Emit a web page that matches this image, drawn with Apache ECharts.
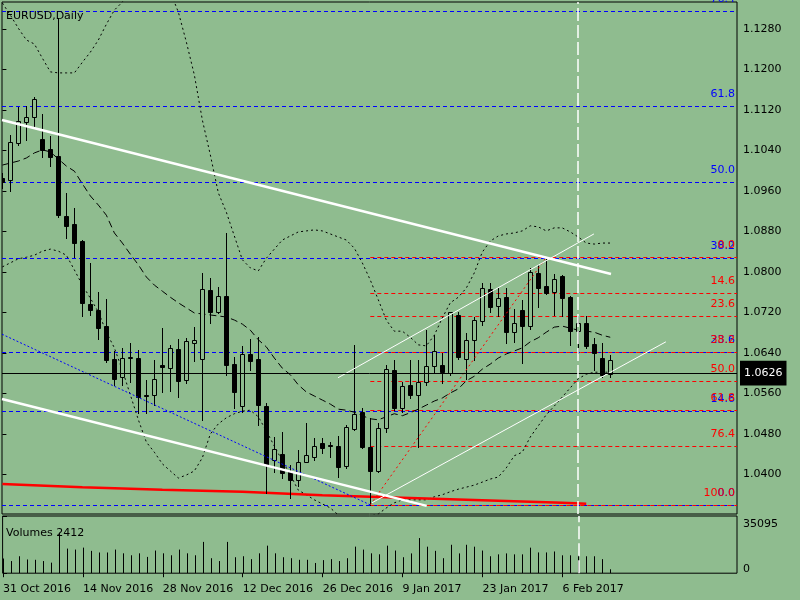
<html>
<head>
<title>EURUSD,Daily</title>
<script src="https://cdn.jsdelivr.net/npm/echarts@6/dist/echarts.min.js"></script>
<style>
    html, body { margin: 0; padding: 0; background: #8FBC8F; }
    #main { width: 800px; height: 600px; }
</style>
</head>
<body>
<div id="main"></div>
<script type="text/javascript">
// daily bars, 31 Oct 2016 .. 10 Feb 2017 (index 0..76)
var opens = [1.0985,1.0982,1.1055,1.1096,1.1106,1.1063,1.1043,1.1029,1.0911,1.0895,
    1.0861,1.0737,1.0725,1.0694,1.0629,1.0593,1.0630,1.0631,1.0557,1.0556,
    1.0617,1.0611,1.0648,1.0587,1.0660,1.0629,1.0765,1.0720,1.0753,1.0619,
    1.0536,1.0638,1.0629,1.0536,1.0429,1.0441,1.0406,1.0390,1.0425,1.0435,
    1.0463,1.0458,1.0457,1.0416,1.0490,1.0524,1.0455,1.0406,1.0491,1.0607,
    1.0532,1.0577,1.0556,1.0583,1.0615,1.0617,1.0601,1.0714,1.0629,1.0666,
    1.0704,1.0767,1.0733,1.0751,1.0682,1.0725,1.0694,1.0798,1.0773,1.0761,
    1.0792,1.0751,1.0684,1.0700,1.0658,1.0631,1.0599];
var highs = [1.0995,1.1071,1.1126,1.1128,1.1146,1.1112,1.1069,1.1301,1.0956,1.0927,
    1.0863,1.0818,1.0761,1.0747,1.0643,1.0650,1.0660,1.0646,1.0587,1.0627,
    1.0690,1.0656,1.0668,1.0670,1.0692,1.0798,1.0788,1.0771,1.0877,1.0633,
    1.0654,1.0668,1.0672,1.0542,1.0475,1.0483,1.0418,1.0449,1.0502,1.0473,
    1.0473,1.0465,1.0477,1.0497,1.0656,1.0532,1.0512,1.0502,1.0617,1.0627,
    1.0583,1.0627,1.0627,1.0686,1.0676,1.0640,1.0721,1.0720,1.0680,1.0711,
    1.0779,1.0779,1.0771,1.0769,1.0727,1.0745,1.0808,1.0814,1.0829,1.0796,
    1.0794,1.0753,1.0712,1.0712,1.0670,1.0660,1.0635];
var lows = [1.0965,1.0960,1.1051,1.1061,1.1084,1.1027,1.1009,1.0909,1.0867,1.0830,
    1.0712,1.0715,1.0668,1.0623,1.0577,1.0577,1.0583,1.0522,1.0522,1.0538,
    1.0562,1.0564,1.0554,1.0581,1.0625,1.0508,1.0700,1.0719,1.0597,1.0532,
    1.0524,1.0607,1.0498,1.0364,1.0404,1.0394,1.0354,1.0378,1.0424,1.0429,
    1.0443,1.0435,1.0396,1.0412,1.0488,1.0453,1.0340,1.0404,1.0483,1.0528,
    1.0524,1.0552,1.0455,1.0577,1.0601,1.0581,1.0597,1.0629,1.0589,1.0627,
    1.0696,1.0720,1.0712,1.0660,1.0662,1.0621,1.0688,1.0731,1.0757,1.0714,
    1.0712,1.0656,1.0640,1.0650,1.0607,1.0593,1.0593];
var closes = [1.0977,1.1057,1.1098,1.1106,1.1142,1.1041,1.1027,1.0913,1.0891,1.0858,
    1.0739,1.0725,1.0690,1.0627,1.0589,1.0631,1.0632,1.0554,1.0555,1.0589,
    1.0613,1.0650,1.0585,1.0664,1.0666,1.0767,1.0720,1.0753,1.0617,1.0562,
    1.0637,1.0625,1.0538,1.0419,1.0451,1.0402,1.0390,1.0425,1.0439,1.0457,
    1.0453,1.0457,1.0414,1.0493,1.0520,1.0455,1.0406,1.0491,1.0609,1.0532,
    1.0575,1.0556,1.0583,1.0615,1.0644,1.0603,1.0720,1.0633,1.0666,1.0705,
    1.0769,1.0731,1.0749,1.0682,1.0700,1.0694,1.0800,1.0769,1.0759,1.0787,
    1.0749,1.0684,1.0700,1.0654,1.0640,1.0597,1.0626];
var volumes = [9000,7450,10400,8430,8230,7450,6470,24900,15100,14500,
    15700,13700,12700,12700,14500,12200,11000,12200,10000,13900,
    12200,11000,14500,12200,11000,19200,9200,7450,19200,9800,
    10400,8630,12200,16900,12200,9800,9200,8230,8230,6270,
    8030,8630,7450,9200,16300,14500,12200,11600,16900,13900,
    9800,12150,21560,16270,13720,9210,17440,12150,17440,16270,
    13900,10390,11560,12150,11560,11560,15680,12740,12740,13330,
    10980,10980,10980,10390,10390,8620,2412];

// bollinger bands
var bbUpper = [1.1331,1.1307,1.1281,1.1258,1.1250,1.1222,1.1195,1.1193,1.1193,1.1193,
    1.1214,1.1234,1.1258,1.1289,1.1317,1.1333,1.1366,1.1386,1.1392,1.1386,
    1.1372,1.1353,1.1313,1.1254,1.1189,1.1100,1.1031,1.0956,1.0918,1.0871,
    1.0824,1.0808,1.0802,1.0827,1.0845,1.0863,1.0871,1.0879,1.0881,1.0883,
    1.0881,1.0875,1.0869,1.0863,1.0847,1.0818,1.0784,1.0745,1.0705,1.0683,
    1.0683,1.0671,1.0656,1.0654,1.0675,1.0709,1.0739,1.0750,1.0768,1.0798,
    1.0839,1.0861,1.0871,1.0875,1.0877,1.0881,1.0891,1.0889,1.0881,1.0887,
    1.0887,1.0879,1.0869,1.0857,1.0855,1.0857,1.0857];
var bbMiddle = [1.1011,1.1015,1.1019,1.1025,1.1035,1.1041,1.1037,1.1023,1.1009,1.0999,
    1.0974,1.0950,1.0932,1.0912,1.0877,1.0857,1.0835,1.0814,1.0790,1.0774,
    1.0762,1.0750,1.0739,1.0729,1.0719,1.0717,1.0715,1.0713,1.0711,1.0705,
    1.0697,1.0685,1.0666,1.0652,1.0630,1.0610,1.0597,1.0577,1.0563,1.0555,
    1.0547,1.0539,1.0529,1.0527,1.0523,1.0516,1.0510,1.0508,1.0514,1.0520,
    1.0516,1.0522,1.0529,1.0537,1.0545,1.0551,1.0561,1.0569,1.0585,1.0594,
    1.0608,1.0618,1.0630,1.0638,1.0644,1.0650,1.0662,1.0670,1.0681,1.0691,
    1.0693,1.0689,1.0685,1.0683,1.0681,1.0675,1.0671];
var bbLower = [1.0810,1.0818,1.0826,1.0829,1.0833,1.0841,1.0845,1.0841,1.0833,1.0804,
    1.0774,1.0748,1.0721,1.0681,1.0650,1.0606,1.0557,1.0508,1.0464,1.0444,
    1.0421,1.0407,1.0393,1.0399,1.0407,1.0433,1.0480,1.0500,1.0512,1.0520,
    1.0525,1.0527,1.0514,1.0486,1.0456,1.0427,1.0399,1.0369,1.0360,1.0350,
    1.0342,1.0334,1.0320,1.0314,1.0310,1.0312,1.0318,1.0322,1.0334,1.0344,
    1.0350,1.0350,1.0350,1.0350,1.0356,1.0360,1.0366,1.0371,1.0375,1.0379,
    1.0385,1.0391,1.0395,1.0413,1.0437,1.0444,1.0474,1.0496,1.0518,1.0535,
    1.0553,1.0571,1.0589,1.0598,1.0602,1.0602,1.0602];

// slow red line, [bar, price]
var redLine = [[0,1.0381],[10,1.0375],[20,1.0370],[30,1.0366],[40,1.0359],
    [50,1.0354],[60,1.0349],[70,1.0344],[73,1.0342]];

// hand drawn objects, [bar, price] end points
var whiteThick1 = [[-0.05,1.1100],[76.1,1.0796]];
var whiteThick2 = [[-0.05,1.0549],[53.05,1.0338]];
var whiteThin1 = [[41.96,1.0591],[73.96,1.0875]];
var whiteThin2 = [[46.2,1.0344],[82.96,1.0662]];
var blueDotted = [[-0.05,1.0677],[46,1.0340]];
var redDotted = [[46,1.0340],[68,1.0829]];
var vLineBar = 72;

var fibLevels = [0, 14.6, 23.6, 38.2, 50, 61.8, 76.4, 100];
var blueFibHigh = 1.1616, blueFibLow = 1.0340;
var redFibHigh = 1.0829, redFibLow = 1.0340, redFibStart = 46;

var dateTicks = [0, 10, 20, 30, 40, 50, 60, 70];
var dateLabels = ['31 Oct 2016','14 Nov 2016','28 Nov 2016','12 Dec 2016',
    '26 Dec 2016','9 Jan 2017','23 Jan 2017','6 Feb 2017'];
var priceTicks = [1.0400,1.0480,1.0560,1.0640,1.0720,1.0800,1.0880,1.0960,1.1040,1.1120,1.1200,1.1280];
var volTicks = [0, 35095];
var lastPrice = 1.0626;
var lastVolume = 2412;

var BG = '#8FBC8F';
var FONT = 'DejaVu Sans';
var X_MIN = -0.05, X_MAX = 91.85;

var candleData = [];
var volData = [];
for (var i = 0; i < opens.length; i++) {
    candleData.push([i, opens[i], closes[i], lows[i], highs[i]]);
    volData.push([i, volumes[i]]);
}
function band(arr) {
    return arr.map(function (v, i) { return [i, v]; });
}
// fib level rows: [start bar, price, level]
function fibData(high, low, fromBar, fromLow) {
    return fibLevels.map(function (lv) {
        var price = fromLow ? low + lv / 100 * (high - low) : high - lv / 100 * (high - low);
        return [fromBar, price, lv];
    });
}

function renderCandle(params, api) {
    var k = api.value(0);
    var o = api.coord([k, api.value(1)]);
    var c = api.coord([k, api.value(2)]);
    var l = api.coord([k, api.value(3)]);
    var h = api.coord([k, api.value(4)]);
    var x = Math.round(o[0]) + 0.5;
    var top = Math.round(Math.min(o[1], c[1])) + 0.5;
    var bot = Math.round(Math.max(o[1], c[1])) + 0.5;
    var up = api.value(2) >= api.value(1);
    return {
        type: 'group',
        children: [
            { type: 'line', shape: { x1: x, y1: Math.round(h[1]), x2: x, y2: Math.round(l[1]) + 1 },
              style: { stroke: '#000', lineWidth: 1 } },
            { type: 'rect', shape: { x: x - 2, y: top, width: 4, height: Math.max(bot - top, 0.01) },
              style: { fill: up ? BG : '#000', stroke: '#000', lineWidth: 1 } }
        ]
    };
}
function renderVolume(params, api) {
    var p0 = api.coord([api.value(0), 0]);
    var p1 = api.coord([api.value(0), api.value(1)]);
    var x = Math.round(p0[0]) + 0.5;
    return { type: 'line', shape: { x1: x, y1: p0[1], x2: x, y2: p1[1] },
             style: { stroke: '#000', lineWidth: 1 } };
}
function fibRenderer(color) {
    return function (params, api) {
        var a = api.coord([api.value(0), api.value(1)]);
        var b = api.coord([X_MAX, api.value(1)]);
        var y = Math.round(a[1]) + 0.5;
        return {
            type: 'group',
            children: [
                { type: 'line', shape: { x1: Math.max(a[0], 2), y1: y, x2: b[0], y2: y },
                  style: { stroke: color, lineWidth: 1, lineDash: [4, 3] } },
                { type: 'text', x: b[0] - 2, y: y - 1,
                  style: { text: api.value(2).toFixed(1), fill: color, font: '11px "DejaVu Sans"',
                           align: 'right', verticalAlign: 'bottom' } }
            ]
        };
    };
}
function segment(pts, color, width, type, z) {
    return { type: 'line', xAxisIndex: 0, yAxisIndex: 0, data: pts, symbol: 'none',
             silent: true, z: z || 4, lineStyle: { color: color, width: width, type: type || 'solid' } };
}
function bandSeries(arr, type) {
    return { type: 'line', xAxisIndex: 0, yAxisIndex: 0, data: band(arr), symbol: 'none',
             silent: true, z: 2, lineStyle: { color: '#000', width: 1, type: type } };
}

var myChart = echarts.init(document.getElementById('main'));
var labelStyle = { color: '#000', fontSize: 11, fontFamily: FONT };

var option = {
    backgroundColor: BG,
    animation: false,
    title: [
        { text: 'EURUSD,Daily', left: 6, top: 5, padding: 0,
          textStyle: { color: '#000', fontSize: 11, fontWeight: 'normal', fontFamily: FONT } },
        { text: 'Volumes ' + lastVolume, left: 6, top: 522, padding: 0,
          textStyle: { color: '#000', fontSize: 11, fontWeight: 'normal', fontFamily: FONT } }
    ],
    grid: [
        { left: 2, top: 2, width: 735, height: 512, show: true, borderColor: '#000', borderWidth: 1,
          backgroundColor: 'transparent' },
        { left: 2, top: 516, width: 735, height: 60, show: true, borderColor: '#000', borderWidth: 1,
          backgroundColor: 'transparent' }
    ],
    xAxis: [
        { type: 'value', gridIndex: 0, min: X_MIN, max: X_MAX, show: false, splitLine: { show: false } },
        { type: 'value', gridIndex: 1, min: X_MIN, max: X_MAX,
          axisLine: { show: false }, splitLine: { show: false },
          axisTick: { show: true, customValues: dateTicks, length: 4, lineStyle: { color: '#000' } },
          axisLabel: Object.assign({ customValues: dateTicks, align: 'left', margin: 5, hideOverlap: false,
              formatter: function (v) { return dateLabels[dateTicks.indexOf(v)]; } }, labelStyle) }
    ],
    yAxis: [
        { type: 'value', gridIndex: 0, position: 'right', min: 1.0322, max: 1.1333,
          axisLine: { show: false }, splitLine: { show: false },
          axisTick: { show: true, customValues: priceTicks, length: 4, lineStyle: { color: '#000' } },
          axisLabel: Object.assign({ customValues: priceTicks, margin: 6,
              formatter: function (v) { return v.toFixed(4); } }, labelStyle) },
        { type: 'value', gridIndex: 1, position: 'right', min: 0, max: 35095,
          axisLine: { show: false }, splitLine: { show: false },
          axisTick: { show: true, customValues: volTicks, length: 4, lineStyle: { color: '#000' } },
          axisLabel: Object.assign({ customValues: volTicks, margin: 6,
              formatter: function (v) { return v === 0 ? '{lo|0}' : '{hi|' + v + '}'; },
              rich: { lo: { padding: [0, 0, 8, 0], fontSize: 11, fontFamily: FONT },
                      hi: { padding: [16, 0, 0, 0], fontSize: 11, fontFamily: FONT } } }, labelStyle) }
    ],
    series: [
        // fibonacci levels
        { type: 'custom', xAxisIndex: 0, yAxisIndex: 0, z: 1, silent: true, clip: false,
          data: fibData(blueFibHigh, blueFibLow, X_MIN, true), renderItem: fibRenderer('#0000FF') },
        { type: 'custom', xAxisIndex: 0, yAxisIndex: 0, z: 1, silent: true, clip: false,
          data: fibData(redFibHigh, redFibLow, redFibStart, false), renderItem: fibRenderer('#FF0000') },
        // last price
        { type: 'line', xAxisIndex: 0, yAxisIndex: 0, data: [], z: 1,
          markLine: { silent: true, symbol: ['none', 'none'], animation: false,
              lineStyle: { color: '#000', width: 1, type: 'solid' },
              label: { show: true, position: 'end', distance: 3, formatter: lastPrice.toFixed(4),
                       color: '#fff', backgroundColor: '#000', padding: [2, 4, 1, 4],
                       fontSize: 11, fontFamily: FONT },
              data: [{ yAxis: lastPrice }] } },
        bandSeries(bbUpper, [2, 3]),
        bandSeries(bbMiddle, [7, 4]),
        bandSeries(bbLower, [2, 3]),
        segment(redLine, '#FF0000', 2.5, 'solid', 2),
        { type: 'custom', xAxisIndex: 0, yAxisIndex: 0, data: candleData, renderItem: renderCandle,
          clip: true, z: 3, silent: true },
        segment(blueDotted, '#0000FF', 1, [2, 2]),
        segment(redDotted, '#FF0000', 1, [2, 3]),
        segment(whiteThick1, '#FFFFFF', 2.5),
        segment(whiteThick2, '#FFFFFF', 2.5),
        segment(whiteThin1, '#FFFFFF', 1),
        segment(whiteThin2, '#FFFFFF', 1),
        { type: 'line', xAxisIndex: 0, yAxisIndex: 0, data: [], z: 5,
          markLine: { silent: true, symbol: ['none', 'none'], animation: false, label: { show: false },
              lineStyle: { color: '#FFFFFF', width: 1.5, type: [13, 4] }, data: [{ xAxis: vLineBar }] } },
        // volume pane
        { type: 'custom', xAxisIndex: 1, yAxisIndex: 1, data: volData, renderItem: renderVolume,
          clip: true, z: 3, silent: true },
        { type: 'line', xAxisIndex: 1, yAxisIndex: 1, data: [], z: 5,
          markLine: { silent: true, symbol: ['none', 'none'], animation: false, label: { show: false },
              lineStyle: { color: '#FFFFFF', width: 1.5, type: [13, 4] }, data: [{ xAxis: vLineBar }] } }
    ]
};
myChart.setOption(option);
</script>
</body>
</html>
